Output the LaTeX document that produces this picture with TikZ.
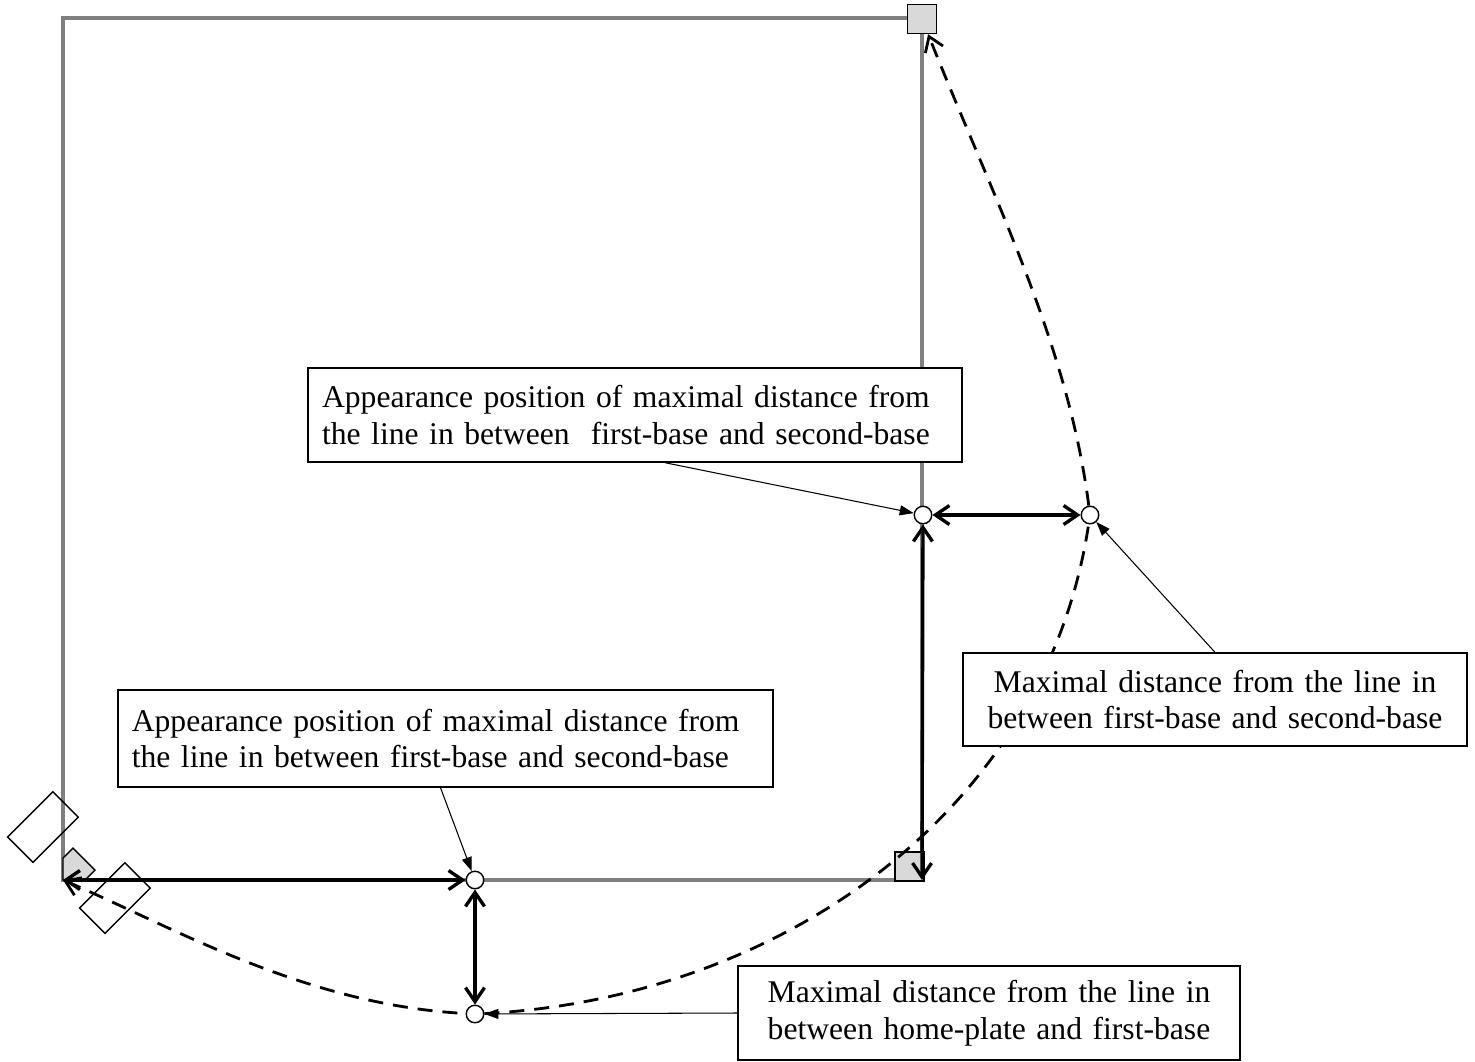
\documentclass[tikz,border=0pt]{standalone}
\usepackage{fontspec}
\setmainfont{Liberation Serif}
\usetikzlibrary{arrows.meta}
\definecolor{fieldgray}{RGB}{128,128,128}
\definecolor{basegray}{RGB}{217,217,217}
\begin{document}
\begin{tikzpicture}[x=0.02cm,y=-0.02cm,
    >={Straight Barb[length=2.8mm,width=3.8mm]},
    base/.style={draw,fill=basegray,line width=0.8pt,minimum size=0.58cm,inner sep=0pt},
    spot/.style={circle,draw,fill=white,line width=0.8pt,minimum size=0.35cm,inner sep=0pt},
    batterbox/.style={draw,line width=0.8pt,rotate=45,minimum width=1.28cm,minimum height=0.72cm,inner sep=0pt},
    labelbox/.style={draw,fill=white,line width=0.8pt,inner xsep=0.28cm,minimum height=1.88cm,
      font=\fontsize{18pt}{21pt}\selectfont},
    gap/.style={line width=1.9pt,<->},
    track/.style={line width=1.6pt,dash pattern=on 0.3cm off 0.2cm},
    pointer/.style={line width=0.6pt,-{Triangle[length=2.8mm,width=2mm]}}]
  \useasboundingbox (0,0) rectangle (1475,1062);
  \draw[fieldgray,line width=2.2pt] (63,880) rectangle (922,18);
  \coordinate (home) at (63,880);
  \coordinate (first) at (922,880);
  \node[base] (second) at (922,19) {};
  \node[base] (firstbag) at (909.5,866.5) {};
  \draw[fill=basegray,line width=0.8pt] (63,880) -- (63,858) -- (73,848) -- (95,870) -- (85,880) -- cycle;
  \node[batterbox] (lbox) at (43,827) {};
  \node[batterbox] (rbox) at (115,898) {};
  \node[spot] (pS) at (923,515) {};
  \node[spot] (pR) at (1090,515) {};
  \node[spot] (pA) at (475,880) {};
  \node[spot] (pB) at (475,1014) {};
  \draw[track,<-] (home) .. controls (173,927) and (305,1005) .. (pB);
  \draw[track] (pB) .. controls (775,999) and (1045,815) .. (pR);
  \draw[track,->] (pR) .. controls (1068,345) and (996,204) .. (second);
  \draw[gap] (home) -- (pA);
  \draw[gap] (pA) -- (pB);
  \draw[gap] (pS) -- (pR);
  \draw[gap] (pS) -- (first);
  \node[labelbox,text width=12.52cm,align=left] (topnote) at (635,415)
    {Appearance position of maximal distance from\\the line in between\ \ first-base and second-base};
  \node[labelbox,text width=12.55cm,align=left,minimum height=1.94cm] (leftnote) at (445.5,738.5)
    {Appearance position of maximal distance from\\the line in between first-base and second-base};
  \node[labelbox,text width=9.52cm,align=center,minimum height=1.86cm] (rightnote) at (1215,699.5)
    {Maximal distance from the line in\\between first-base and second-base};
  \node[labelbox,text width=9.48cm,align=center] (bottomnote) at (989,1013)
    {Maximal distance from the line in\\between home-plate and first-base};
  \draw[pointer] ([xshift=0.6cm]topnote.south) -- (pS);
  \draw[pointer] ([xshift=-0.1cm]leftnote.south) -- (pA);
  \draw[pointer] (rightnote.north) -- (pR);
  \draw[pointer] (bottomnote.west) -- (pB);
\end{tikzpicture}
\end{document}
